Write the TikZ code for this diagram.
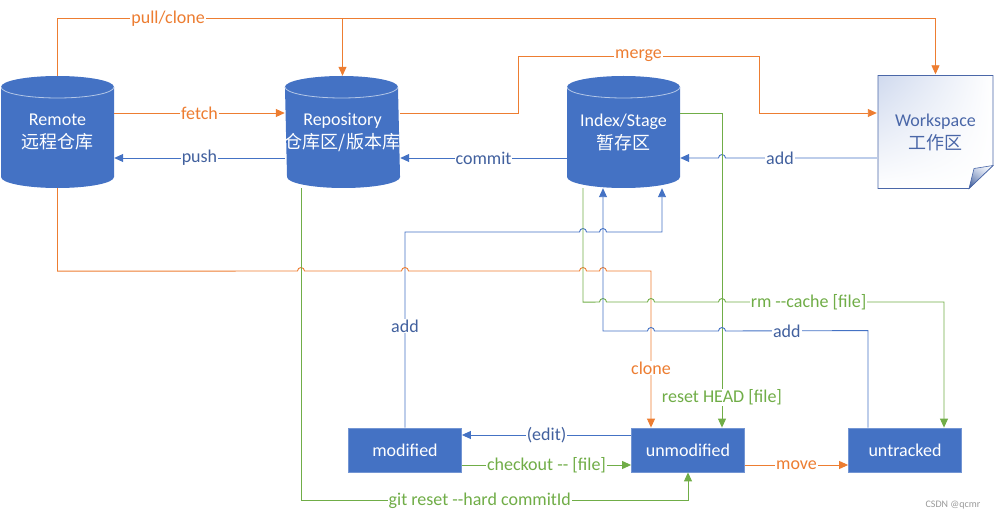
\documentclass[tikz,border=0pt]{standalone}
\usepackage{fontspec}
\setmainfont{Carlito}[Ligatures=TeXOff]
\newfontfamily\cjk{Noto Sans CJK SC}
\usetikzlibrary{arrows.meta,shadings}

\definecolor{gitblue}{HTML}{4472C4}
\definecolor{gitorange}{HTML}{ED7D31}
\definecolor{gitgreen}{HTML}{70AD47}
\definecolor{lblblue}{HTML}{41609E}
\definecolor{drumrim}{HTML}{B4C7E7}
\definecolor{wsedge}{HTML}{4A67A8}
\definecolor{wsshade}{HTML}{CFD9EE}
\definecolor{flapdark}{HTML}{2F4F8F}

% small bridge where a horizontal line jumps a vertical one
\newcommand\hopright[2]{-- (#1-3.5,#2) arc[start angle=180,end angle=0,radius=3.5pt]}
\newcommand\hopleft[2]{-- (#1+3.5,#2) arc[start angle=0,end angle=180,radius=3.5pt]}

\tikzset{
  drum/.style={minimum width=113pt, minimum height=112pt, inner sep=0pt, align=center, text=white,
    path picture={
      \fill[gitblue] ([yshift=-11pt]path picture bounding box.north west)
        arc[start angle=180,end angle=0,x radius=56.5pt,y radius=11pt]
        -- ([yshift=11pt]path picture bounding box.south east)
        arc[start angle=0,end angle=-180,x radius=56.5pt,y radius=11pt] -- cycle;
      \draw[drumrim, line width=0.8pt] ([yshift=-11pt]path picture bounding box.north west)
        arc[start angle=180,end angle=360,x radius=56.5pt,y radius=11pt];
    }},
  paper/.style={minimum width=117pt, minimum height=115pt, inner sep=0pt, align=center, text=wsedge,
    path picture={
      \shadedraw[upper left=wsshade, upper right=white, lower left=white, lower right=white,
        draw=wsedge, line width=0.8pt]
        ([shift={(1pt,-1pt)}]path picture bounding box.north west)
        -- ([shift={(-1pt,-1pt)}]path picture bounding box.north east)
        -- ([shift={(-1pt,24pt)}]path picture bounding box.south east)
        -- ([shift={(-25pt,1pt)}]path picture bounding box.south east)
        -- ([shift={(1pt,1pt)}]path picture bounding box.south west) -- cycle;
      \shadedraw[upper right=white, upper left=wsshade, lower right=wsshade, lower left=flapdark,
        draw=wsedge, line width=0.6pt]
        ([shift={(-1pt,24pt)}]path picture bounding box.south east)
        -- ([shift={(-25pt,1pt)}]path picture bounding box.south east)
        -- ([shift={(-20pt,21pt)}]path picture bounding box.south east) -- cycle;
    }},
  statebox/.style={rectangle, fill=gitblue, draw=gitblue!75!white, line width=0.8pt, text=white,
    minimum width=113pt, minimum height=44pt, inner sep=0pt},
  link/.style={line width=0.9pt, -{Triangle[length=9pt,width=8pt]}},
  orangeline/.style={link, draw=gitorange},
  blueline/.style={link, draw=gitblue},
  greenline/.style={link, draw=gitgreen},
  lbl/.style={fill=white, inner sep=1pt, text=#1},
}

\begin{document}
\begin{tikzpicture}[x=1pt,y=1pt,font=\fontsize{18}{23}\selectfont]
    \useasboundingbox (0,0) rectangle (994,-521);
    % Draw the stores
    \node[drum] (rem) at (57.5,-132) {Remote\\\cjk 远程仓库};
    \node[drum] (repo) at (342.5,-132) {Repository\\\cjk 仓库区/版本库};
    \node[drum] (idx) at (623.5,-132) {Index/Stage\\\cjk 暂存区};
    \node[paper] (ws) at (935.5,-132) {Workspace\\\cjk 工作区};
    % Draw the file states
    \node[statebox] (mod) at (405,-450) {modified};
    \node[statebox] (unmod) at (688,-450) {unmodified};
    \node[statebox] (untr) at (905,-450) {untracked};
    % Top row
    \draw[orangeline] (rem.north) -- ++(0,57) -| node[lbl=gitorange,pos=0.063] {pull/clone} (ws.north);
    \draw[orangeline] ([yshift=57pt]repo.north) -- (repo.north);
    \draw[orangeline] ([yshift=19pt]rem.east) -- node[lbl=gitorange] {fetch} ([yshift=19pt]repo.west);
    \draw[blueline] ([yshift=-26pt]repo.west) -- node[lbl=lblblue] {push} ([yshift=-26pt]rem.east);
    \draw[orangeline] ([yshift=19pt]repo.east) -- (518,-113) |- node[lbl=gitorange,pos=0.75] {merge} (759,-56)
        |- ([yshift=19pt]ws.west);
    \draw[blueline] ([yshift=-26pt]idx.west) -- node[lbl=lblblue] {commit} ([yshift=-26pt]repo.east);
    \draw[blueline] ([yshift=-26pt]ws.west) -- node[lbl=lblblue,pos=0.64] {add} (725.5,-158)
        arc[start angle=0,end angle=180,radius=3.5pt] -- ([yshift=-26pt]idx.east);
    % Down to the file states
    \draw[greenline] ([yshift=19pt]idx.east) -| node[lbl=gitgreen,pos=0.952] {reset HEAD [file]} ([xshift=34pt]unmod.north);
    \draw[blueline] (mod.north) |- node[lbl=lblblue,pos=0.26] {add} (579.5,-232)
        arc[start angle=180,end angle=0,radius=3.5pt] \hopright{603}{-232} -| ([xshift=38.5pt]idx.south);
    \draw[orangeline] (rem.south) -- ++(0,-83) \hopright{301}{-271} \hopright{405}{-271} \hopright{583}{-271}
        \hopright{603}{-271} -| node[lbl=gitorange,pos=0.81] {clone} ([xshift=-37pt]unmod.north);
    \draw[greenline] ([xshift=-40.5pt]idx.south) -- ++(0,-114) \hopright{603}{-302} \hopright{651}{-302}
        \hopright{722}{-302} -| node[lbl=gitgreen,pos=0.19] {rm --cache [file]} ([xshift=39pt]untr.north);
    \draw[blueline] ([xshift=-37pt]untr.north) -- ++(0,97) -- node[lbl=lblblue,pos=0.57] {add} (725.5,-331)
        arc[start angle=0,end angle=180,radius=3.5pt] \hopleft{651}{-331} -| ([xshift=-20.5pt]idx.south);
    \draw[greenline] ([xshift=-41.5pt]repo.south) |- node[lbl=gitgreen,pos=0.731] {git reset --hard commitId}
        ([yshift=-28pt]unmod.south) -- (unmod.south);
    % Bottom row
    \draw[blueline] ([yshift=15pt]unmod.west) -- node[lbl=lblblue] {(edit)} ([yshift=15pt]mod.east);
    \draw[greenline] ([yshift=-15pt]mod.east) -- node[lbl=gitgreen] {checkout -- [file]} ([yshift=-15pt]unmod.west);
    \draw[orangeline] ([yshift=-15pt]unmod.east) -- node[lbl=gitorange] {move} ([yshift=-15pt]untr.west);
    \node[font=\fontsize{10}{12}\selectfont, text=gray!80] (mark) at (953,-505) {CSDN @qcmr};
\end{tikzpicture}
\end{document}
